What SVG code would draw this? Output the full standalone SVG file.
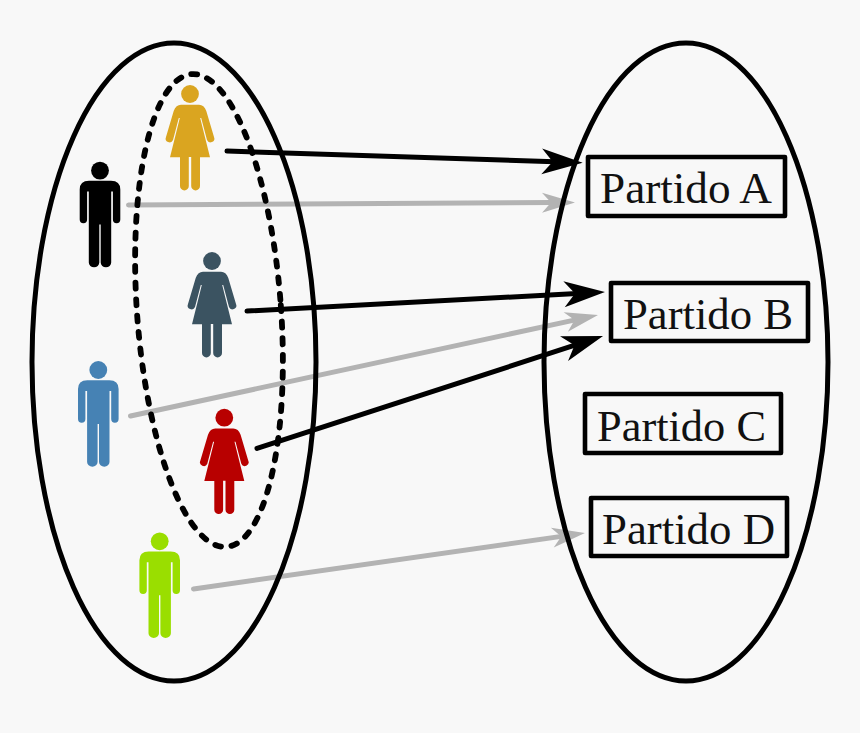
<svg xmlns="http://www.w3.org/2000/svg" width="860" height="733" viewBox="0 0 860 733">
<style>
.big{fill:none;stroke:#000;stroke-width:5}
.dash{fill:none;stroke:#000;stroke-width:5.8;stroke-linecap:round;stroke-dasharray:6 10.6}
.blk{fill:none;stroke:#000;stroke-width:5;stroke-linecap:round}
.gry{fill:none;stroke:#b3b3b3;stroke-width:5;stroke-linecap:round}
.box{fill:none;stroke:#000;stroke-width:4.6;stroke-linejoin:round}
.lbl{font-family:"Liberation Serif","DejaVu Serif",serif;font-size:44px;fill:#111}
</style>
<defs>
<marker id="hb" markerUnits="userSpaceOnUse" viewBox="-14 -14 44 28" markerWidth="44" markerHeight="28" refX="0" refY="0" orient="auto"><path d="M-13,-13 L28,0 L-13,13 L-2,0 Z" fill="#000"/></marker>
<marker id="hg" markerUnits="userSpaceOnUse" viewBox="-12 -11 36 22" markerWidth="36" markerHeight="22" refX="0" refY="0" orient="auto"><path d="M-11,-10 L22,0 L-11,10 L-2,0 Z" fill="#b3b3b3"/></marker>
<g id="man"><circle cx="0" cy="0" r="8.9"/><path d="M-20.3,19 Q-20.3,10.2 -11,10.2 H11 Q20.3,10.2 20.3,19 V49 A3.7,3.7 0 0 1 12.9,49 V21 H11.2 V92 A5.2,4.6 0 0 1 0.7,92 V54 H-0.7 V92 A5.2,4.6 0 0 1 -11.2,92 V21 H-12.9 V49 A3.7,3.7 0 0 1 -20.3,49 Z"/></g>
<g id="woman"><circle cx="0" cy="0" r="8.9"/><path d="M-9,10.8 H9 Q14,10.8 16.3,17 L24,43 A3.7,3.7 0 0 1 17,46 L11.2,24 H10.2 L20,63.2 H10 V92 A4.4,4.4 0 0 1 1.2,92 V63 H-1.2 V92 A4.4,4.4 0 0 1 -10,92 V63.2 H-20 L-10.2,24 H-11.2 L-17,46 A3.7,3.7 0 0 1 -24,43 L-16.3,17 Q-14,10.8 -9,10.8 Z"/></g>
</defs>
<rect width="860" height="733" fill="#f8f8f8"/>
<g id="connectors-gray">
<path class="gry" marker-end="url(#hg)" d="M128.5,205 L553,202.6"/>
<path class="gry" marker-end="url(#hg)" d="M130.5,416 L576.5,319.6"/>
<path class="gry" marker-end="url(#hg)" d="M193.5,589 L563.2,536.1"/>
</g>
<g id="set-left"><ellipse class="big" cx="174" cy="362" rx="142" ry="319"/></g>
<g id="set-right"><ellipse class="big" cx="686" cy="362" rx="142" ry="319"/></g>
<g id="subset"><ellipse class="dash" cx="209" cy="310.5" rx="72" ry="237" transform="rotate(-4.2 209 310.5)"/></g>
<g id="connectors-black">
<path class="blk" marker-end="url(#hb)" d="M227,151.1 L554.7,161.8"/>
<path class="blk" marker-end="url(#hb)" d="M247,311 L577,293.5"/>
<path class="blk" marker-end="url(#hb)" d="M257,448.4 L576.4,344.7"/>
</g>
<g id="person-gold"><use href="#woman" x="190" y="94" fill="#daa520"/></g>
<g id="person-black"><use href="#man" x="100" y="170.6" fill="#000"/></g>
<g id="person-slate"><use href="#woman" x="212" y="261" fill="#3b5361"/></g>
<g id="person-blue"><use href="#man" x="98.3" y="370" fill="#4682b4"/></g>
<g id="person-red"><use href="#woman" x="224.3" y="417.7" fill="#b80000"/></g>
<g id="person-green"><use href="#man" x="159.7" y="541.3" fill="#9ade00"/></g>
<g id="partido-a"><rect class="box" x="588" y="157" width="197" height="59"/><text class="lbl" x="600" y="203" textLength="172" lengthAdjust="spacingAndGlyphs">Partido A</text></g>
<g id="partido-b"><rect class="box" x="611" y="283" width="197" height="58"/><text class="lbl" x="623" y="329" textLength="170" lengthAdjust="spacingAndGlyphs">Partido B</text></g>
<g id="partido-c"><rect class="box" x="585" y="394" width="196" height="59"/><text class="lbl" x="597" y="441" textLength="169" lengthAdjust="spacingAndGlyphs">Partido C</text></g>
<g id="partido-d"><rect class="box" x="591" y="498" width="196" height="58"/><text class="lbl" x="602" y="544" textLength="173" lengthAdjust="spacingAndGlyphs">Partido D</text></g>
</svg>
